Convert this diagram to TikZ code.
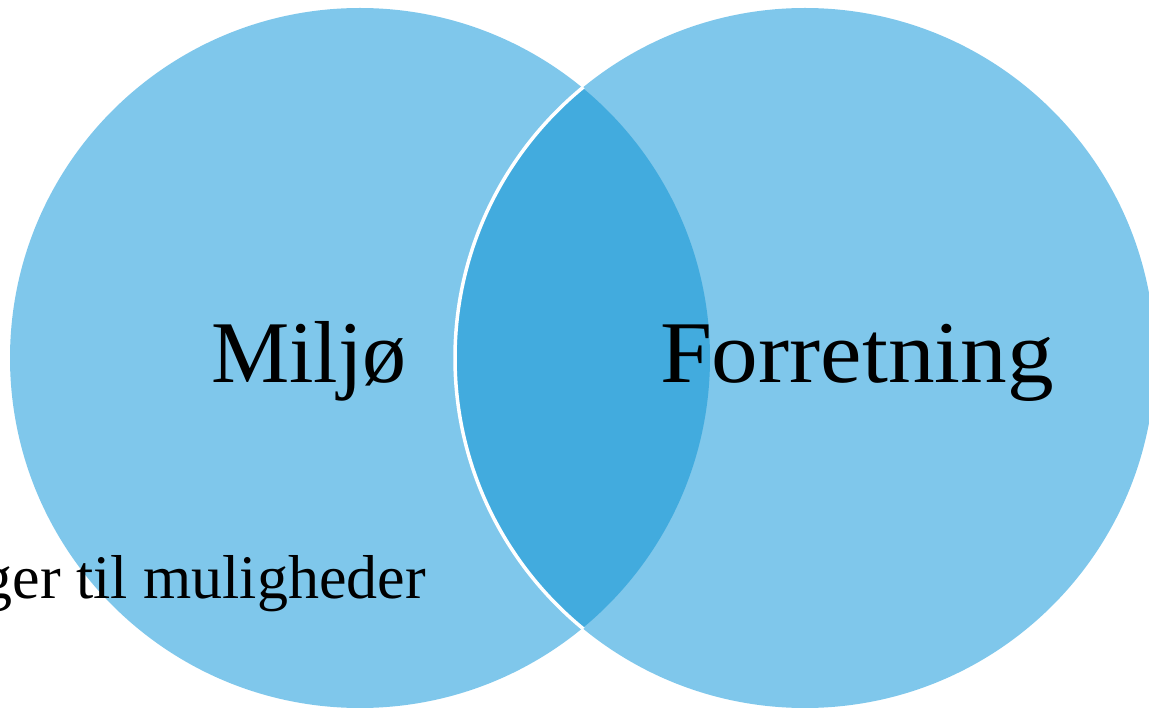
\documentclass[tikz,border=0pt]{standalone}
\usepackage{fontspec}
\setmainfont{Liberation Serif}
\usepackage{graphicx}
\definecolor{lightc}{HTML}{7FC7EB}
\definecolor{darkc}{HTML}{42ABDE}
\tikzset{
  circ/.style={fill=lightc, draw=none},
  bigtxt/.style={font=\fontsize{88}{100}\selectfont, inner sep=0pt, anchor=base},
  smalltxt/.style={font=\fontsize{62}{72}\selectfont, inner sep=0pt, anchor=base east}
}
\begin{document}
\begin{tikzpicture}[x=1pt,y=-1pt]
\useasboundingbox (0,0) rectangle (1149,708);
\clip (0,0) rectangle (1149,708);
\fill[circ] (360,358) circle (350);
\fill[circ] (805,358) circle (350);
\begin{scope}
  \clip (360,358) circle (350);
  \fill[darkc] (805,358) circle (350);
\end{scope}
\begin{scope}
  \clip (360,358) circle (351);
  \draw[white, line width=3.5pt] (805,358) circle (350);
\end{scope}
\node[bigtxt] (miljo) at (309,383) {Miljø};
\node[bigtxt] (forr) at (857,383) {\scalebox{1.06}[1]{Forretning}};
\node[smalltxt] (mul) at (426,598) {ger til muligheder};
\end{tikzpicture}
\end{document}
